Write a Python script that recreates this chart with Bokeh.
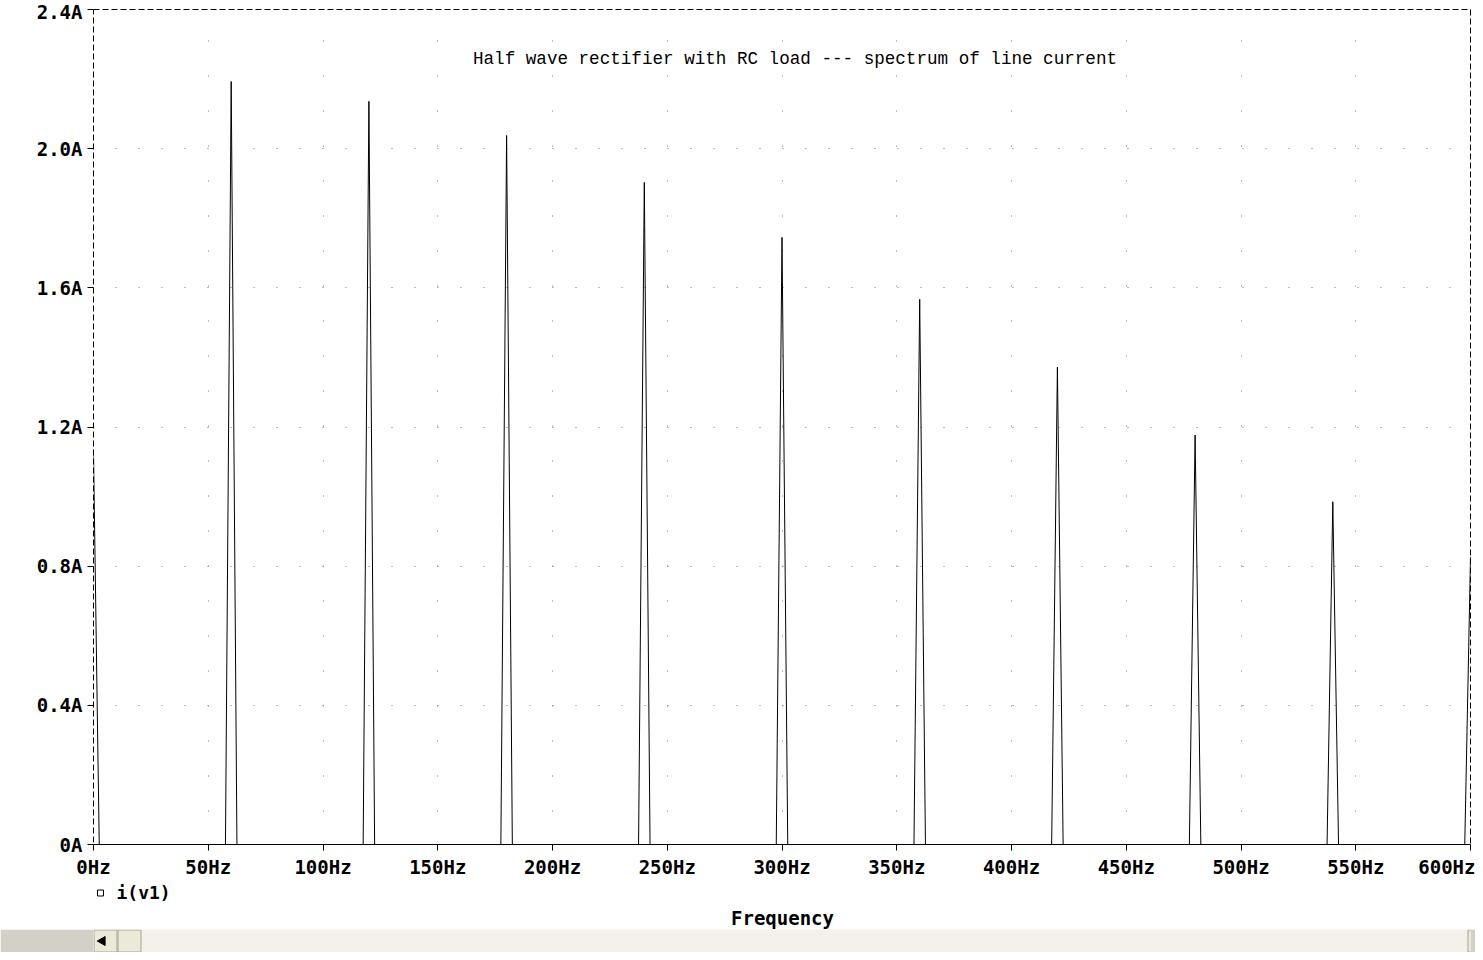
import numpy as np
from bokeh.plotting import figure
from bokeh.models import Range1d, FixedTicker, Label
from bokeh.layouts import column
from bokeh.embed import file_html
from bokeh.resources import INLINE

# ---------------- data ----------------
title_text = "Half wave rectifier with RC load --- spectrum of line current"
x_label_text = "Frequency"
trace_name = "i(v1)"

harmonic_freq_hz = [0, 60, 120, 180, 240, 300, 360, 420, 480, 540, 600]
harmonic_amp_a = [1.128, 2.193, 2.136, 2.038, 1.903, 1.745, 1.567, 1.372, 1.177, 0.985, 0.827]
fft_bin_hz = 2.5          # FFT frequency resolution read from the peak widths
fft_last_hz = 602.5

x_ticks = [0, 50, 100, 150, 200, 250, 300, 350, 400, 450, 500, 550, 600]
x_tick_labels = ["0Hz", "50Hz", "100Hz", "150Hz", "200Hz", "250Hz", "300Hz",
                 "350Hz", "400Hz", "450Hz", "500Hz", "550Hz", "600Hz"]
y_ticks = [0, 0.4, 0.8, 1.2, 1.6, 2.0, 2.4]
y_tick_labels = ["0A", "0.4A", "0.8A", "1.2A", "1.6A", "2.0A", "2.4A"]

# sampled spectrum: baseline zero between harmonic bins
freq = np.arange(0, fft_last_hz + 1e-9, fft_bin_hz)
amp = np.zeros_like(freq)
for f, a in zip(harmonic_freq_hz, harmonic_amp_a):
    amp[np.isclose(freq, f)] = a

mono = "DejaVu Sans Mono"
LEFT, RIGHT, W = 93, 5, 1475

# ---------------- main plot ----------------
p = figure(width=W, height=880,
           x_range=Range1d(0, 600), y_range=Range1d(0, 2.4),
           output_backend="svg", toolbar_location=None,
           min_border_left=LEFT, min_border_right=RIGHT,
           min_border_top=9, min_border_bottom=35)
p.background_fill_color = "white"
p.border_fill_color = "white"
p.outline_line_color = "black"
p.outline_line_width = 1
p.outline_line_dash = [6, 3]

p.line(freq, amp, line_color="black", line_width=1)

p.xaxis.ticker = FixedTicker(ticks=x_ticks)
p.xaxis.major_label_overrides = dict(zip(x_ticks, x_tick_labels))
p.yaxis.ticker = FixedTicker(ticks=y_ticks)
p.yaxis.major_label_overrides = dict(zip(y_ticks, y_tick_labels))

for ax in (p.xaxis[0], p.yaxis[0]):
    ax.major_tick_out = 6
    ax.major_tick_in = 0
    ax.minor_tick_out = 0
    ax.minor_tick_in = 0
    ax.major_tick_line_color = "black"
    ax.major_label_text_font = mono
    ax.major_label_text_font_style = "bold"
    ax.major_label_text_font_size = "19px"
    ax.major_label_text_color = "black"
    ax.major_label_standoff = 5

p.xaxis.axis_line_color = "black"
p.yaxis.axis_line_color = None

p.xgrid.grid_line_color = "#7a7a7a"
p.xgrid.grid_line_width = 1
p.xgrid.grid_line_dash = [1, 34]
p.xgrid.grid_line_dash_offset = 2
p.ygrid.grid_line_color = "#7a7a7a"
p.ygrid.grid_line_width = 1
p.ygrid.grid_line_dash = [1, 22]
p.ygrid.grid_line_dash_offset = 1

p.add_layout(Label(text=title_text, x=701.5, y=786, x_units="screen", y_units="screen",
                   text_font="Liberation Mono", text_font_size="17.6px",
                   text_align="center", text_baseline="middle", text_color="black"))

# ---------------- legend + x-axis title strip ----------------
t = figure(width=W, height=49, x_range=Range1d(LEFT, W - RIGHT), y_range=Range1d(49, 0),
           output_backend="svg", toolbar_location=None,
           x_axis_location=None, y_axis_location=None,
           min_border_left=LEFT, min_border_right=RIGHT, min_border_top=0, min_border_bottom=0)
t.grid.visible = False
t.outline_line_color = None
t.background_fill_color = "white"
t.border_fill_color = "white"
t.scatter(x=[100], y=[12.5], marker="square", size=6,
          fill_color="white", line_color="black", line_width=1)
t.add_layout(Label(text=trace_name, x=116, y=12, text_font=mono, text_font_style="bold",
                   text_font_size="18px", text_align="left", text_baseline="middle",
                   text_color="black"))
t.add_layout(Label(text=x_label_text, x=782, y=37, text_font=mono, text_font_style="bold",
                   text_font_size="19px", text_align="center", text_baseline="middle",
                   text_color="black"))

# ---------------- window scrollbar strip (decoration) ----------------
s = figure(width=W, height=23, x_range=Range1d(LEFT, W - RIGHT), y_range=Range1d(0, 23),
           output_backend="svg", toolbar_location=None,
           x_axis_location=None, y_axis_location=None,
           min_border_left=LEFT, min_border_right=RIGHT, min_border_top=0, min_border_bottom=0)
s.grid.visible = False
s.outline_line_color = None
s.background_fill_color = "#f3f1ea"
s.border_fill_color = "#d4d0c8"
s.quad(left=[93.5, 117.5, 1467.5], right=[116.5, 140.5, 1480], bottom=[0.5, 0.5, 0.5],
       top=[22.5, 22.5, 22.5], fill_color="#ece9d8", line_color="#a8a595")
s.scatter(x=[102], y=[11.5], marker="triangle", size=9,
          angle=[np.pi / 2], fill_color="black", line_color="black")

layout = column(p, t, s, spacing=0)
open("out.html", "w").write(file_html(layout, INLINE))
